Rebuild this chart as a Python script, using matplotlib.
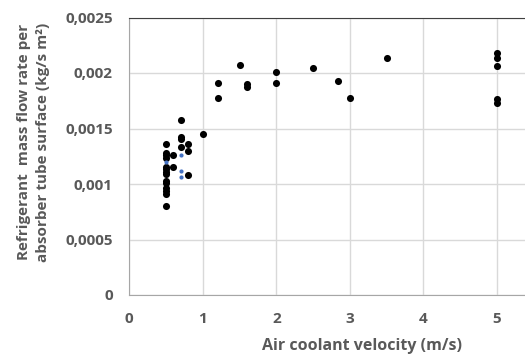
import numpy as np
import matplotlib.pyplot as plt

# black series: air velocity (m/s) vs mass flow rate per surface
vel = [0.5, 0.5, 0.5, 0.5, 0.5, 0.5, 0.5, 0.5, 0.5, 0.5, 0.5, 0.5, 0.5, 0.5,
       0.6, 0.6,
       0.7, 0.7, 0.7, 0.7,
       0.8, 0.8, 0.8,
       1.0, 1.2, 1.2, 1.5, 1.6, 1.6, 2.0, 2.0, 2.5, 2.84, 3.0, 3.5,
       5.0, 5.0, 5.0, 5.0, 5.0]
flow = [0.001363, 0.001282, 0.001261, 0.001237, 0.001156, 0.001132, 0.001108,
        0.001087, 0.001027, 0.001006, 0.000961, 0.000937, 0.000907, 0.000802,
        0.001261, 0.001156,
        0.001577, 0.001423, 0.001405, 0.001336,
        0.001363, 0.001294, 0.001078,
        0.001453, 0.001913, 0.001775, 0.002072, 0.001904, 0.001874,
        0.002009, 0.001913, 0.002042, 0.001931, 0.001778, 0.002138,
        0.00218, 0.002132, 0.00206, 0.001763, 0.001733]

# blue series
vel_b = [0.5, 0.7, 0.7, 0.7]
flow_b = [0.0012, 0.00126, 0.00112, 0.00106]

yticks = [0, 0.0005, 0.001, 0.0015, 0.002, 0.0025]
ylabels = ['0', '0,0005', '0,001', '0,0015', '0,002', '0,0025']
xticks = [0, 1, 2, 3, 4, 5]

plt.rcParams['font.family'] = ['Open Sans', 'DejaVu Sans']
txt = '#595959'

fig = plt.figure(figsize=(5.25, 3.54), dpi=100)
ax = fig.add_axes([129.3/525, 59/354, 441/525, 277.5/354])

ax.scatter(vel, flow, s=26, color='black', zorder=3, linewidths=0)
ax.scatter(vel_b, flow_b, s=9, color='#4472C4', zorder=4, linewidths=0)

ax.set_xlim(0, 6)
ax.set_ylim(0, 0.0025)
ax.set_xticks(xticks)
ax.set_xticklabels([str(t) for t in xticks])
ax.set_yticks(yticks)
ax.set_yticklabels(ylabels)
ax.grid(True, color='#D9D9D9', lw=1)
ax.set_axisbelow(True)
ax.tick_params(length=0, labelsize=11, labelcolor=txt, pad=12)
for lab in ax.get_xticklabels() + ax.get_yticklabels():
    lab.set_fontweight('bold')

for s in ['left', 'bottom']:
    ax.spines[s].set_color('#A6A6A6')
ax.spines['top'].set_color('#404040')
ax.spines['right'].set_visible(False)

ax.set_xlabel('Air coolant velocity (m/s)', fontsize=11.5, fontweight='bold', color=txt)
ax.xaxis.set_label_coords((362 - 129.3) / 441, -0.155)
ax.set_ylabel('Refrigerant  mass flow rate per\nabsorber tube surface (kg/s m²)',
              fontsize=11, fontweight='bold', color=txt, linespacing=1.45)
ax.yaxis.set_label_coords(-0.18, 0.55)

plt.savefig('out.png', dpi=100)
